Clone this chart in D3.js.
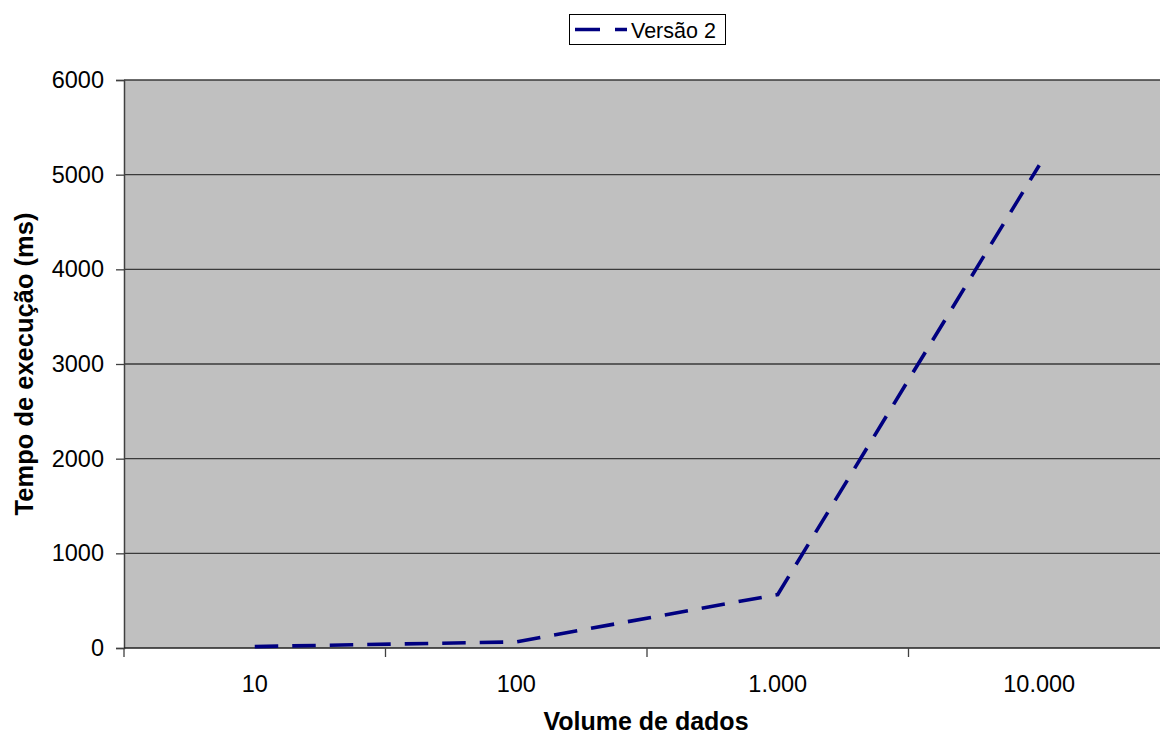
<!DOCTYPE html>
<html>
<head>
<meta charset="utf-8">
<script src="https://cdn.jsdelivr.net/npm/d3@7"></script>
<style>
  html, body { margin: 0; padding: 0; background: #fff; }
  svg { display: block; }
  text { font-family: "Liberation Sans", Arial, sans-serif; }
</style>
</head>
<body>
<svg id="chart" width="1160" height="736"></svg>
<script>
// Tempo de execução por volume de dados
const categories = ["10", "100", "1.000", "10.000"];
const seriesName = "Versão 2";
const seriesValues = [15, 65, 565, 5100];
const yTicks = [0, 1000, 2000, 3000, 4000, 5000, 6000];

const svg = d3.select("#chart");
const plot = { left: 124, top: 80, width: 1046, height: 568 };

const x = d3.scaleBand()
  .domain(categories)
  .range([plot.left, plot.left + plot.width])
  .paddingInner(0).paddingOuter(0);

const y = d3.scaleLinear()
  .domain([0, 6000])
  .range([plot.top + plot.height, plot.top]);

// plot background
svg.append("rect")
  .attr("x", plot.left).attr("y", plot.top)
  .attr("width", plot.width).attr("height", plot.height)
  .attr("fill", "#c0c0c0");

// horizontal gridlines
svg.append("g")
  .selectAll("line")
  .data(yTicks.filter(d => d > 0))
  .join("line")
  .attr("x1", plot.left).attr("x2", plot.left + plot.width)
  .attr("y1", d => y(d)).attr("y2", d => y(d))
  .attr("stroke", "#3a3a3a").attr("stroke-width", 1.3);

// y axis
const yAxis = d3.axisLeft(y).tickValues(yTicks).tickSize(8).tickPadding(12).tickFormat(d3.format("d"));
const gy = svg.append("g")
  .attr("transform", `translate(${plot.left},0)`)
  .call(yAxis);
gy.select(".domain").attr("stroke", "#404040").attr("stroke-width", 1.5);
gy.selectAll(".tick line").attr("stroke", "#404040").attr("stroke-width", 1.3);
gy.selectAll(".tick text")
  .attr("font-size", 23.5).attr("fill", "#000")
  .style("font-family", "'Liberation Sans', Arial, sans-serif");

// x axis: ticks at category boundaries, labels centred in bands
const boundaries = categories.map(c => x(c));
const gx = svg.append("g");
gx.append("line")
  .attr("x1", plot.left).attr("x2", plot.left + plot.width)
  .attr("y1", y(0)).attr("y2", y(0))
  .attr("stroke", "#202020").attr("stroke-width", 1.5);
gx.selectAll("line.tick")
  .data(boundaries)
  .join("line")
  .attr("class", "tick")
  .attr("x1", d => d).attr("x2", d => d)
  .attr("y1", y(0)).attr("y2", y(0) + 9)
  .attr("stroke", "#404040").attr("stroke-width", 1.3);
gx.selectAll("text")
  .data(categories)
  .join("text")
  .attr("x", d => x(d) + x.bandwidth() / 2)
  .attr("y", y(0) + 44)
  .attr("text-anchor", "middle")
  .attr("font-size", 23.5)
  .attr("fill", "#000")
  .text(d => d);

// series line
const line = d3.line()
  .x((d, i) => x(categories[i]) + x.bandwidth() / 2)
  .y(d => y(d));

svg.append("path")
  .datum(seriesValues)
  .attr("d", line)
  .attr("fill", "none")
  .attr("stroke", "#000080")
  .attr("stroke-width", 3.6)
  .attr("stroke-dasharray", "23.5,14");

// axis titles
svg.append("text")
  .attr("x", 646).attr("y", 730)
  .attr("text-anchor", "middle")
  .attr("font-size", 25).attr("font-weight", "bold")
  .text("Volume de dados");

svg.append("text")
  .attr("transform", `translate(33,364) rotate(-90)`)
  .attr("text-anchor", "middle")
  .attr("font-size", 25.5).attr("font-weight", "bold")
  .text("Tempo de execução (ms)");

// legend
const legend = svg.append("g");
legend.append("rect")
  .attr("x", 569.5).attr("y", 14.5).attr("width", 156).attr("height", 30)
  .attr("fill", "#fff").attr("stroke", "#000").attr("stroke-width", 1);
legend.append("line")
  .attr("x1", 575).attr("x2", 627).attr("y1", 29.5).attr("y2", 29.5)
  .attr("stroke", "#000080").attr("stroke-width", 3.6)
  .attr("stroke-dasharray", "25,15");
legend.append("text")
  .attr("x", 631).attr("y", 37.5)
  .attr("font-size", 21.5)
  .text(seriesName);
</script>
</body>
</html>
